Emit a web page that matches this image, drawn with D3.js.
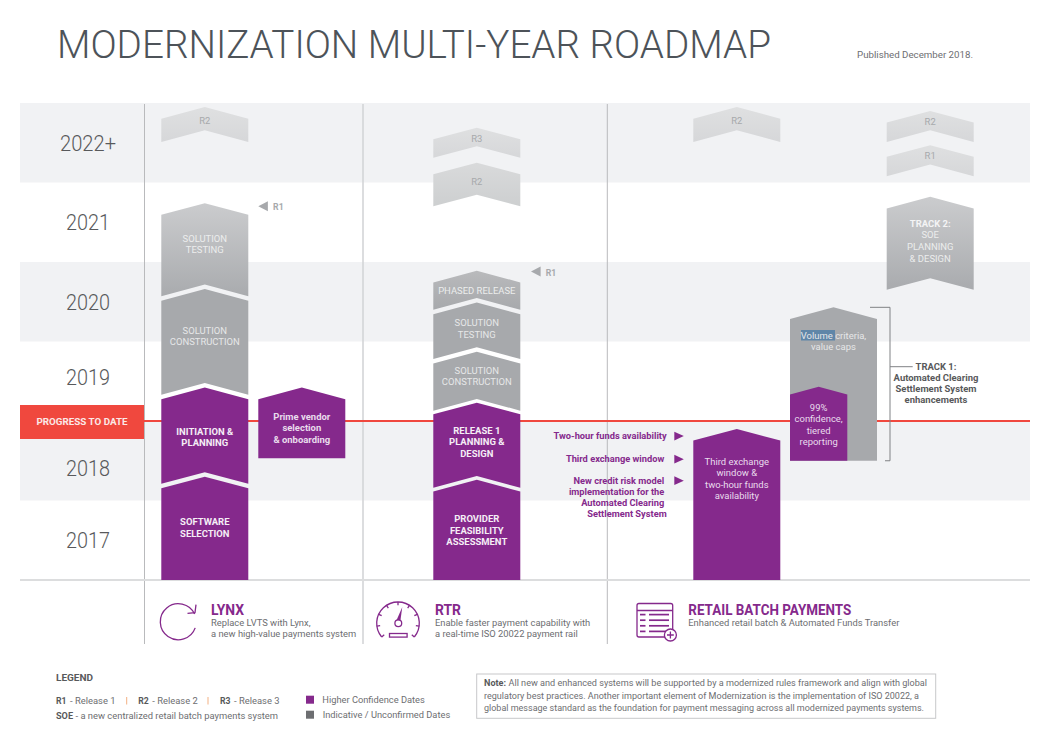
<!DOCTYPE html>
<html><head><meta charset="utf-8">
<script src="https://cdnjs.cloudflare.com/ajax/libs/d3/7.8.5/d3.min.js"></script>
<style>
html,body{margin:0;padding:0;background:#fff}
svg{display:block}
text{font-family:Roboto,"Noto Sans",sans-serif}
</style></head><body>
<div id="chart"></div>
<script>
// ---- data ----
const yearBands = [2017, 2018, 2019, 2020, 2021, 2022];
const yearLabels = ["2017", "2018", "2019", "2020", "2021", "2022+"];
const yearLabelAt = [2017.5, 2018.41, 2019.55, 2020.49, 2021.5, 2022.49];
const progressYear = 2019;

const markText = [
  "R2", "SOLUTION|TESTING", "SOLUTION|CONSTRUCTION", "INITIATION &|PLANNING", "SOFTWARE|SELECTION", "Prime vendor|selection|& onboarding",
  "R3", "R2", "PHASED RELEASE", "SOLUTION|TESTING", "SOLUTION|CONSTRUCTION", "RELEASE 1|PLANNING &|DESIGN", "PROVIDER|FEASIBILITY|ASSESSMENT",
  "R2", "Third exchange|window &|two-hour funds|availability", "Volume criteria,|value caps", "99%|confidence,|tiered|reporting",
  "R2", "R1", "TRACK 2:|SOE|PLANNING|& DESIGN"
];
const markLane = [
  "lynx", "lynx", "lynx", "lynx", "lynx", "vendor",
  "rtr", "rtr", "rtr", "rtr", "rtr", "rtr", "rtr",
  "batch", "batch", "track1", "track1inner",
  "track2", "track2", "track2"
];
const markTop = [
  2022.95, 2021.74, 2020.66, 2019.42, 2018.30, 2019.42,
  2022.69, 2022.25, 2020.89, 2020.49, 2019.87, 2019.23, 2018.26,
  2022.95, 2018.90, 2020.43, 2019.43,
  2022.90, 2022.47, 2021.82
];
const markBase = [
  2022.51, 2020.57, 2019.33, 2018.21, 2017, 2018.53,
  2022.31, 2021.70, 2020.40, 2019.78, 2019.13, 2018.16, 2017,
  2022.51, 2017, 2018.50, 2018.50,
  2022.51, 2022.08, 2020.65
];
const markNotched = [
  1, 1, 1, 1, 0, 0,
  1, 1, 1, 1, 1, 1, 0,
  1, 0, 0, 0,
  1, 1, 1
];
const markKind = [
  "pale", "fade", "solid", "firm", "firm", "firmCase",
  "pale", "mist", "soft", "solid", "solid", "firm", "firm",
  "pale", "firmCase", "solid", "firmCase",
  "pale", "pale", "fade"
];
const markLabelAt = [
  2022.78, 2021.23, 2020.07, 2018.80, 2017.66, 2018.92,
  2022.56, 2022.02, 2020.64, 2020.17, 2019.57, 2018.74, 2017.63,
  2022.78, 2018.28, 2020.01, 2018.96,
  2022.77, 2022.34, 2021.27
];

const releaseFlagText = ["R1", "R1"];
const releaseFlagLane = ["vendor", "rtrFlag"];
const releaseFlagYear = [2021.70, 2020.88];

const calloutLines = [
  ["Two-hour funds availability"],
  ["Third exchange window"],
  ["New credit risk model", "implementation for the", "Automated Clearing", "Settlement System"]
];
const calloutYear = [2018.81, 2018.52, 2018.25];

const programTitle = ["LYNX", "RTR", "RETAIL BATCH PAYMENTS"];
const programLines = [
  ["Replace LVTS with Lynx,", "a new high-value payments system"],
  ["Enable faster payment capability with", "a real-time ISO 20022 payment rail"],
  ["Enhanced retail batch & Automated Funds Transfer"]
];
const trackLines = ["TRACK 1:", "Automated Clearing", "Settlement System", "enhancements"];
const noteLines = [
  "All new and enhanced systems will be supported by a modernized rules framework and align with global",
  "regulatory best practices. Another important element of Modernization is the implementation of ISO 20022, a",
  "global message standard as the foundation for payment messaging across all modernized payments systems."
];

// ---- scales ----
const W = 1038, H = 742, PURPLE = "#85298c", GREYTXT = "#6d6e71";
const y = d3.scaleLinear().domain([2017, 2023]).range([580, 103]);
const laneNames = ["lynx", "vendor", "rtr", "rtrFlag", "batch", "track1", "track1inner", "track2"];
const laneX = d3.scaleOrdinal().domain(laneNames).range([161.3, 258.3, 433.3, 531, 693.3, 790, 790, 886.7]);
const laneW = d3.scaleOrdinal().domain(laneNames).range([87, 87, 87, 87, 87, 87, 57.3, 87]);

const svg = d3.select("#chart").append("svg").attr("width", W).attr("height", H);
function fit(sel, target, ratio) {
  sel.each(function () {
    const len = this.getComputedTextLength();
    d3.select(this).attr("textLength", target || (len * ratio)).attr("lengthAdjust", "spacingAndGlyphs");
  });
  return sel;
}
function label(x, yy, str, o = {}) {
  const t = svg.append("text").attr("x", x).attr("y", yy).attr("dy", "0.35em")
    .attr("text-anchor", o.anchor || "start")
    .attr("font-size", o.size || 9).attr("font-weight", o.weight || 400)
    .attr("fill", o.fill || GREYTXT).text(str);
  return fit(t, o.width, o.ratio || 1.02);
}

// gradients
const defs = svg.append("defs");
function grad(id, a, b) {
  const g = defs.append("linearGradient").attr("id", id).attr("x1", 0).attr("x2", 0).attr("y1", 0).attr("y2", 1);
  g.append("stop").attr("offset", 0).attr("stop-color", a);
  g.append("stop").attr("offset", 1).attr("stop-color", b);
}
grad("g-pale", "#dfe0e1", "#d6d7d9");
grad("g-mist", "#d9dadb", "#cdcfd0");
grad("g-fade", "#cbccce", "#a9abae");
grad("g-soft", "#b9babc", "#a7a9ac");
const kindFill = { pale: "url(#g-pale)", mist: "url(#g-mist)", fade: "url(#g-fade)", soft: "url(#g-soft)", solid: "#a7a9ac", firm: PURPLE, firmCase: PURPLE };
const kindText = { pale: "#a7a9ac", mist: "#a7a9ac", fade: "#eceded", soft: "#eceded", solid: "#e6e7e8", firm: "#f5eef6", firmCase: "#e9dcec" };

// title
label(57, 44, "MODERNIZATION MULTI-YEAR ROADMAP", { size: 39, weight: 300, fill: "#4d5359", width: 714 });
label(973, 55, "Published December 2018.", { size: 9.5, anchor: "end", fill: "#6d6e71", width: 116 });

// year bands (alternate rows shaded)
svg.selectAll("rect.band").data(yearBands).join("rect").attr("class", "band")
  .attr("x", 20).attr("width", 1010)
  .attr("y", d => y(d + 1)).attr("height", d => y(d) - y(d + 1))
  .attr("fill", (d, i) => i % 2 ? "#f1f2f4" : "#ffffff");

// column rules
[[144.5, "#b9babc", 1], [363, "#d4d5d7", 1.6], [607.3, "#b9babc", 1]].forEach(([x, c, w]) =>
  svg.append("line").attr("x1", x).attr("x2", x).attr("y1", 104).attr("y2", 644).attr("stroke", c).attr("stroke-width", w));
svg.append("line").attr("x1", 20).attr("x2", 1030).attr("y1", y(2017)).attr("y2", y(2017)).attr("stroke", "#dcddde").attr("stroke-width", 1.8);

// progress line and flag
svg.append("line").attr("x1", 144).attr("x2", 1030).attr("y1", y(progressYear)).attr("y2", y(progressYear)).attr("stroke", "#f0483e").attr("stroke-width", 2.2);
svg.append("rect").attr("x", 20).attr("width", 124).attr("y", 405).attr("height", 34).attr("fill", "#f0483e");
label(82, 421.5, "PROGRESS TO DATE", { size: 9.6, weight: 700, anchor: "middle", fill: "#fbe9e7", width: 91 });

// year labels
yearLabels.forEach((t, i) => label(88, y(yearLabelAt[i]), t, { size: 22, weight: 300, anchor: "middle", fill: "#58595b", width: t === "2022+" ? 56 : 44 }));

// marks
const marks = markText.map((t, i) => ({ t, lane: markLane[i], top: markTop[i], base: markBase[i], notch: markNotched[i], kind: markKind[i], at: markLabelAt[i] }));
const shape = d => {
  const x0 = laneX(d.lane), w = laneW(d.lane), x1 = x0 + w, cx = x0 + w / 2, s = w * 0.134;
  const yt = y(d.top), yb = y(d.base);
  const p = d3.path();
  p.moveTo(x0, yb); p.lineTo(x0, yt + s); p.lineTo(cx, yt); p.lineTo(x1, yt + s); p.lineTo(x1, yb);
  if (d.notch) p.lineTo(cx, yb - s);
  p.closePath();
  return p.toString();
};
svg.selectAll("path.mark").data(marks).join("path").attr("class", "mark")
  .attr("d", shape).attr("fill", d => kindFill[d.kind]);

// selection highlight visible in the source document
svg.append("rect").attr("x", 801).attr("y", 330).attr("width", 34).attr("height", 10.5).attr("fill", "#5f86a8");

marks.forEach(d => {
  const lines = d.t.split("|"), cx = laneX(d.lane) + laneW(d.lane) / 2, pitch = 11.6;
  const y0 = y(d.at) - (lines.length - 1) * pitch / 2 + 0.6;
  lines.forEach((ln, i) => {
    const bold = d.kind === "firm" || ln === "TRACK 2:" || d.lane === "vendor";
    label(cx, y0 + i * pitch, ln, { size: 9, weight: bold ? 700 : 400, anchor: "middle", fill: ln === "TRACK 2:" ? "#f4f4f5" : kindText[d.kind], ratio: 1.05 });
  });
});

// release flags
releaseFlagText.forEach((t, i) => {
  const x0 = laneX(releaseFlagLane[i]), yy = y(releaseFlagYear[i]);
  svg.append("path").attr("d", d3.line()([[x0, yy], [x0 + 9.6, yy - 5], [x0 + 9.6, yy + 5]]) + "Z").attr("fill", "#a7a9ac");
  label(x0 + 14.8, yy + 1, t, { size: 8.5, weight: 700, fill: "#a7a9ac" });
});

// callouts
calloutLines.forEach((lines, i) => {
  const yy = y(calloutYear[i]);
  svg.append("path").attr("d", d3.line()([[674.3, yy - 4.3], [683.8, yy], [674.3, yy + 4.3]]) + "Z").attr("fill", PURPLE);
  lines.forEach((ln, j) => label(/Two-hour|Settlement/.test(ln) ? 666.7 : 664.3, yy + j * 11, ln, { size: 9, weight: 700, anchor: "end", fill: PURPLE, ratio: 1.03 }));
});

// track 1 bracket
svg.append("path").attr("fill", "none").attr("stroke", "#808285").attr("stroke-width", 1)
  .attr("d", `M870,${y(2020.43)}H890V${y(2018.50)}H885M890,366.7H912.7`);
trackLines.forEach((t, i) => label(936, 366.7 + i * 11, t, { size: 9, weight: 700, anchor: "middle", fill: "#58595b", ratio: 1.05 }));

// program heads
const headX = [211, 435, 688.3];
const headW = [33, 26, 163];
programTitle.forEach((t, i) => {
  label(headX[i], 610.5, t, { size: 14, weight: 700, fill: PURPLE, width: headW[i] });
  programLines[i].forEach((ln, j) => label(headX[i], 622.8 + j * 11, ln, { size: 9.5, fill: GREYTXT, ratio: 0.985 }));
});

// icons
const ink = svg.append("g").attr("fill", "none").attr("stroke", PURPLE).attr("stroke-width", 1.3);
const rad = a => a * Math.PI / 180;
const loop = d3.path();
loop.arc(178.3, 621.7, 18, rad(20), rad(335));
ink.append("path").attr("d", loop.toString());
ink.append("path").attr("d", "M187.5,613.4L195,612.6L196,604.6");
const dial = d3.path();
dial.arc(398, 623.3, 21.3, rad(140), rad(400));
ink.append("path").attr("d", dial.toString());
d3.range(140, 401, 260 / 8).forEach(a => {
  const c = Math.cos(rad(a)), s = Math.sin(rad(a));
  ink.append("line").attr("x1", 398 + 21.3 * c).attr("y1", 623.3 + 21.3 * s).attr("x2", 398 + 18 * c).attr("y2", 623.3 + 18 * s);
});
ink.append("circle").attr("cx", 398.3).attr("cy", 623.3).attr("r", 3.4);
svg.append("path").attr("d", "M396.6,620L402.3,607L400.4,620.4Z").attr("fill", PURPLE);
ink.append("rect").attr("x", 389.5).attr("y", 633.5).attr("width", 17.6).attr("height", 3.6);
ink.append("rect").attr("x", 637).attr("y", 603.5).attr("width", 35.7).attr("height", 33.5).attr("rx", 2);
ink.append("line").attr("x1", 637).attr("x2", 672.7).attr("y1", 610.5).attr("y2", 610.5);
d3.range(614.6, 633, 5.6).forEach(v => {
  ink.append("line").attr("x1", 640).attr("x2", 645.5).attr("y1", v).attr("y2", v).attr("stroke-width", 1.7);
  ink.append("line").attr("x1", 649).attr("x2", 669).attr("y1", v).attr("y2", v).attr("stroke-width", 1.7);
});
ink.append("circle").attr("cx", 670.4).attr("cy", 635).attr("r", 6).attr("fill", "#fff");
ink.append("path").attr("d", "M667,635H673.8M670.4,631.6V638.4");

// legend
label(56, 677.7, "LEGEND", { size: 9, weight: 700, fill: "#58595b", width: 37 });
[[56, "R1", "- Release 1"], [138.3, "R2", "- Release 2"], [220, "R3", "- Release 3"]].forEach(([x, a, b]) => {
  label(x, 700.7, a, { size: 9, weight: 700, fill: "#58595b", width: 10.5 });
  label(x + 14, 700.7, b, { size: 9, fill: GREYTXT, width: 45.5 });
});
[126.7, 208].forEach(x => svg.append("line").attr("x1", x).attr("x2", x).attr("y1", 697).attr("y2", 704.5).attr("stroke", "#f3b183").attr("stroke-width", 1));
label(56, 715.7, "SOE", { size: 9, weight: 700, fill: "#58595b", width: 17 });
label(75.5, 715.7, "- a new centralized retail batch payments system", { size: 9, fill: GREYTXT, width: 202.5 });
svg.append("rect").attr("x", 306).attr("y", 695.7).attr("width", 8).attr("height", 8).attr("fill", PURPLE);
svg.append("rect").attr("x", 306).attr("y", 710.7).attr("width", 8).attr("height", 8).attr("fill", "#6d6e71");
label(322.3, 700, "Higher Confidence Dates", { size: 9, width: 102.5 });
label(322.7, 715, "Indicative / Unconfirmed Dates", { size: 9, width: 127.5 });

// note box
svg.append("rect").attr("x", 476.7).attr("y", 674).attr("width", 459).attr("height", 44.3).attr("fill", "#fff").attr("stroke", "#c7c8ca").attr("stroke-width", 1);
label(484, 682.9, "Note:", { size: 8.8, weight: 700, fill: "#58595b", width: 22 });
label(508.5, 682.9, noteLines[0], { size: 8.8, width: 418.5 });
label(484, 695.7, noteLines[1], { size: 8.8, width: 435 });
label(484, 708.3, noteLines[2], { size: 8.8, width: 440 });
</script>
</body></html>
